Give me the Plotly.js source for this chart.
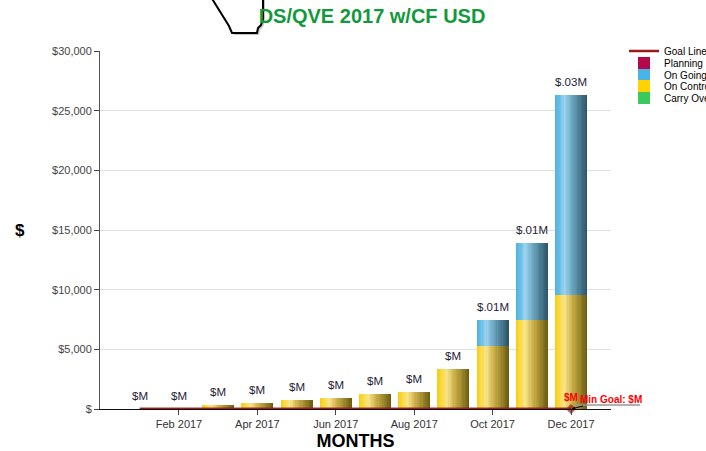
<!DOCTYPE html>
<html>
<head>
<meta charset="utf-8">
<script src="https://cdn.plot.ly/plotly-3.0.1.min.js"></script>
<style>html,body{margin:0;padding:0;background:#fff;}#chart{width:706px;height:451px;}</style>
</head>
<body>
<div id="chart"></div>
<script>
// ---- data ----
const months = ['Jan 2017','Feb 2017','Mar 2017','Apr 2017','May 2017','Jun 2017','Jul 2017','Aug 2017','Sep 2017','Oct 2017','Nov 2017','Dec 2017'];
const onControl = [0, 0, 300, 530, 750, 950, 1260, 1450, 3350, 5280, 7430, 9530];
const onGoing   = [0, 0, 0, 0, 0, 0, 0, 0, 0, 2180, 6470, 16770];
const planning  = [0, 0, 0, 0, 0, 0, 0, 0, 0, 0, 0, 0];
const carryOver = [0, 0, 0, 0, 0, 0, 0, 0, 0, 0, 0, 0];
const goalLine  = [0, 0, 0, 0, 0, 0, 0, 0, 0, 0, 0, 0];
const barLabels = ['$M','$M','$M','$M','$M','$M','$M','$M','$M','$.01M','$.01M','$.03M'];
const goalPointLabel = '$M';
const goalNote = 'Min Goal: $M';
const yTickVals = [0, 5000, 10000, 15000, 20000, 25000, 30000];
const yTickText = ['$', '$5,000', '$10,000', '$15,000', '$20,000', '$25,000', '$30,000'];
const xTickIdx = [1, 3, 5, 7, 9, 11];
const titleText = 'DS/QVE 2017 w/CF USD';
const yTitle = '$';
const xTitle = 'MONTHS';

// ---- helpers ----
const xIdx = months.map((m, i) => i);
const totals = onControl.map((v, i) => v + onGoing[i]);
const FONT = 'Liberation Sans, Arial, sans-serif';
const W = 0.82, N = 26;

function hex(c){return [parseInt(c.slice(1,3),16),parseInt(c.slice(3,5),16),parseInt(c.slice(5,7),16)];}
function grad(stops, t){
  for (let i = 0; i < stops.length - 1; i++) {
    const [t0, c0] = stops[i], [t1, c1] = stops[i+1];
    if (t >= t0 && t <= t1) {
      const f = (t - t0) / (t1 - t0), a = hex(c0), b = hex(c1);
      return 'rgb(' + a.map((v, j) => Math.round(v + (b[j] - v) * f)).join(',') + ')';
    }
  }
  return stops[stops.length-1][1];
}
const goldStops = [[0,'#F6CC12'],[0.12,'#FAD93A'],[0.3,'#F7E48C'],[0.5,'#D2B650'],[0.75,'#A08A2C'],[1,'#6A5A10']];
const blueStops = [[0,'#4CB0E2'],[0.12,'#62BCE6'],[0.3,'#9CD4EE'],[0.5,'#71ABC6'],[0.75,'#4C7F96'],[1,'#2B5366']];

const traces = [];
// legend / base traces (each in its own legend so rows can sit tight)
traces.push({type:'scatter', mode:'lines', name:'Goal Line', x:xIdx, y:goalLine, legend:'legend',
  line:{color:'#9B1B1B', width:2.5}, hoverinfo:'skip', showlegend:true});
traces.push({type:'bar', name:'Planning', x:xIdx, y:planning, width:W, legend:'legend2',
  marker:{color:'#B3084A', line:{width:0}}, hoverinfo:'skip'});
traces.push({type:'bar', name:'On Going', x:xIdx, y:onGoing, base:onControl, width:W, legend:'legend3',
  marker:{color:'#4BB4E6', line:{width:0}}, hoverinfo:'skip'});
traces.push({type:'bar', name:'On Control', x:xIdx, y:onControl, width:W, legend:'legend4',
  marker:{color:'#FFD200', line:{width:0}}, hoverinfo:'skip'});
traces.push({type:'bar', name:'Carry Over', x:xIdx, y:carryOver, width:W, legend:'legend5',
  marker:{color:'#3CC85A', line:{width:0}}, hoverinfo:'skip'});
// gradient slices
function slices(vals, base, stops){
  for (let k = 0; k < N; k++) {
    const t = (k + 0.5) / N;
    traces.push({type:'bar', x:xIdx, y:vals, base:base, offset:-W/2 + k*W/N, width:W - k*W/N,
      marker:{color:grad(stops, t), line:{width:0}}, showlegend:false, hoverinfo:'skip'});
  }
}
slices(onControl, onControl.map(() => 0), goldStops);
slices(onGoing, onControl, blueStops);
// goal line drawn on top
traces.push({type:'scatter', mode:'lines+markers+text', x:xIdx, y:goalLine, showlegend:false,
  line:{color:'#9B1B1B', width:2.5},
  marker:{symbol:'diamond', color:'#8B1414', size:xIdx.map(i => i === xIdx.length-1 ? 7 : 0)},
  text:xIdx.map(i => i === xIdx.length-1 ? goalPointLabel : ''), textposition:'top center',
  textfont:{family:FONT, size:10, color:'#FF0000', weight:'bold'}, cliponaxis:false, hoverinfo:'skip'});

// plot area pixels -> paper
const L = 100, T = 51, PW = 511, PH = 358;
const px = x => (x - L) / PW, py = y => (T + PH - y) / PH;
function path(pts, dx, dy){
  return pts.map((p, i) => (i ? 'L' : 'M') + px(p[0] + dx).toFixed(4) + ',' + py(p[1] + dy).toFixed(4)).join(' ') + ' Z';
}
const cursorPts = [[211,-3],[229,26],[232,33],[257,33],[258,28],[261,25],[263,19],[263,-3]];

// bar value labels as annotations
const labelAnns = xIdx.map(i => ({x:i, y:totals[i], xref:'x', yref:'y', text:barLabels[i], showarrow:false,
  yanchor:'bottom', yshift:5, font:{family:FONT, size:11.5, color:'#1E2236'}}));

const legendRows = [51, 63, 75, 86, 98];
function leg(row){
  return {x:px(624), y:py(row), xanchor:'left', yanchor:'middle', traceorder:'normal',
    font:{family:FONT, size:10, color:'#000'}, bgcolor:'rgba(0,0,0,0)', borderwidth:0, itemwidth:30};
}

const layout = {
  width:706, height:451,
  margin:{l:L, r:706 - L - PW, t:T, b:451 - T - PH, autoexpand:false},
  paper_bgcolor:'#fff', plot_bgcolor:'#fff',
  barmode:'overlay', bargap:0,
  font:{family:FONT, color:'#333'},
  title:{text:titleText, font:{family:FONT, size:20, color:'#12993B', weight:'bold'},
    x:372/706, xref:'container', xanchor:'center', y:1 - 16/451, yref:'container', yanchor:'middle'},
  xaxis:{range:[-1.015, 12.02], tickvals:xTickIdx, ticktext:xTickIdx.map(i => months[i]),
    ticks:'outside', ticklen:5, tickcolor:'#444', showgrid:false, zeroline:false,
    showline:true, linecolor:'#111', linewidth:1,
    tickfont:{family:FONT, size:11, color:'#333'},
    title:{text:xTitle, font:{family:FONT, size:18, color:'#000', weight:'bold'}, standoff:11}},
  yaxis:{range:[0, 30000], tickvals:yTickVals, ticktext:yTickText,
    ticks:'outside', ticklen:5, tickcolor:'#444', showgrid:true, gridcolor:'#E0E0E0', zeroline:false,
    showline:true, linecolor:'#555', linewidth:1,
    tickfont:{family:FONT, size:11, color:'#444'}},
  legend:leg(legendRows[0]), legend2:leg(legendRows[1]), legend3:leg(legendRows[2]),
  legend4:leg(legendRows[3]), legend5:leg(legendRows[4]),
  annotations:[
    {x:px(20), y:py(230), xref:'paper', yref:'paper', text:yTitle, showarrow:false, xanchor:'center', yanchor:'middle',
      font:{family:FONT, size:17, color:'#000', weight:'bold'}},
    {x:11, y:0, xref:'x', yref:'y', text:goalNote, showarrow:true, ax:40, ay:-10,
      arrowcolor:'#000', arrowwidth:1, arrowhead:2, arrowsize:0.6, standoff:1,
      font:{family:FONT, size:10, color:'#FF0000', weight:'bold'}}
  ].concat(labelAnns),
  shapes:[
    {type:'line', xref:'paper', yref:'paper', x0:px(576), x1:px(640), y0:py(405), y1:py(405),
      line:{color:'#999', width:1.5}},
    {type:'path', xref:'paper', yref:'paper', path:path(cursorPts, 2, 2), fillcolor:'rgba(0,0,0,0.22)', line:{width:0}, layer:'above'},
    {type:'path', xref:'paper', yref:'paper', path:path(cursorPts, 0, 0), fillcolor:'#fff', line:{color:'#000', width:2}, layer:'above'}
  ]
};
Plotly.newPlot('chart', traces, layout, {displayModeBar:false, staticPlot:true});
</script>
</body>
</html>
